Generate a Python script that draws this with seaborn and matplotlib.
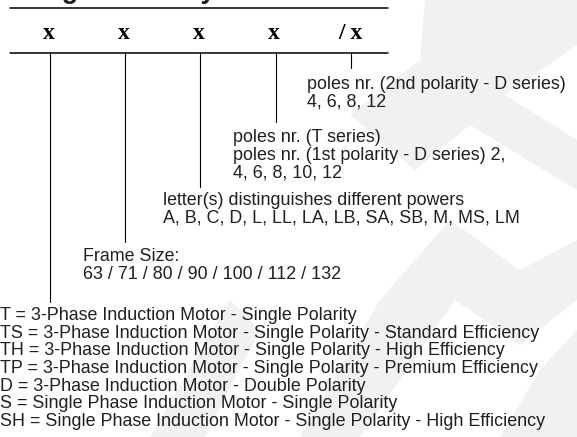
import matplotlib
matplotlib.use("Agg")
import matplotlib.pyplot as plt
import seaborn as sns
from matplotlib.patches import Polygon

# --- DATA ---
titulo = "Designation Key"
codigo = ["x", "x", "x", "x", "/ x"]
bloco_polos_2 = ["poles nr. (2nd polarity - D series)", "4, 6, 8, 12"]
bloco_polos_1 = ["poles nr. (T series)",
                 "poles nr. (1st polarity - D series) 2,",
                 "4, 6, 8, 10, 12"]
bloco_letras = ["letter(s) distinguishes different powers",
                "A, B, C, D, L, LL, LA, LB, SA, SB, M, MS, LM"]
bloco_carcaca = ["Frame Size:", "63 / 71 / 80 / 90 / 100 / 112 / 132"]
bloco_tipos = [
    "T = 3-Phase Induction Motor - Single Polarity",
    "TS = 3-Phase Induction Motor - Single Polarity - Standard Efficiency",
    "TH = 3-Phase Induction Motor - Single Polarity - High Efficiency",
    "TP = 3-Phase Induction Motor - Single Polarity - Premium Efficiency",
    "D = 3-Phase Induction Motor - Double Polarity",
    "S = Single Phase Induction Motor - Single Polarity",
    "SH = Single Phase Induction Motor - Single Polarity - High Efficiency",
]

# --- LAYOUT (pixels, origin top-left) ---
W, H = 577, 437
COR_TEXTO = "#231f20"
FS = 12.9
ESPACO = 17.7
pos_codigo = [49, 124, 199, 274, 350]
# (linhas, x do texto, baseline da 1a linha, x do traço, fim do traço)
blocos = [
    (bloco_polos_2, 307, 89, 351, 68),
    (bloco_polos_1, 233, 142, 275.5, 122),
    (bloco_letras, 163, 205, 200, 187),
    (bloco_carcaca, 83, 261, 125, 242),
    (bloco_tipos, 0, 320, 50, 302),
]

sns.set_theme(style="white")
plt.rcParams["font.family"] = ["Liberation Sans", "DejaVu Sans"]

fig = plt.figure(figsize=(W / 100, H / 100), dpi=100)
ax = fig.add_axes([0, 0, 1, 1])
ax.set_xlim(0, W)
ax.set_ylim(H, 0)
ax.axis("off")

# marca d'agua clarinha no fundo
marca = [
    [(425, 0), (577, 0), (577, 45), (505, 95), (577, 140), (577, 190),
     (470, 125), (415, 170), (350, 115), (420, 60)],
    [(300, 437), (360, 437), (455, 300), (520, 345), (577, 300), (577, 240),
     (520, 270), (450, 220), (380, 300)],
    [(500, 437), (577, 437), (577, 330), (540, 370)],
    [(150, 437), (205, 437), (260, 330), (230, 300)],
]
for pts in marca:
    ax.add_patch(Polygon(pts, closed=True, facecolor="#f1f1f1",
                         edgecolor="none", zorder=0))

# titulo cortado no topo (como na referencia)
ax.text(5, -1.5, titulo, fontsize=19.4, fontweight="bold",
        color=COR_TEXTO, va="baseline", ha="left")

# linhas horizontais
ax.plot([10, 388], [8, 8], color="black", lw=1.1)
ax.plot([10, 388], [53, 53], color="black", lw=1.1)

# letras do codigo
for xc, letra in zip(pos_codigo, codigo):
    ax.text(xc, 39, letra, fontsize=17, fontweight="bold",
            family=["Liberation Serif", "DejaVu Serif"],
            color="black", ha="center", va="baseline")

# blocos de texto com seus tracos
for linhas, xt, y0, xl, yfim in blocos:
    ax.plot([xl, xl], [53, yfim], color="black", lw=0.8)
    for i, linha in enumerate(linhas):
        ax.text(xt, y0 + i * ESPACO, linha, fontsize=FS, color=COR_TEXTO,
                ha="left", va="baseline")

fig.savefig("out.png", dpi=100)
plt.close(fig)
